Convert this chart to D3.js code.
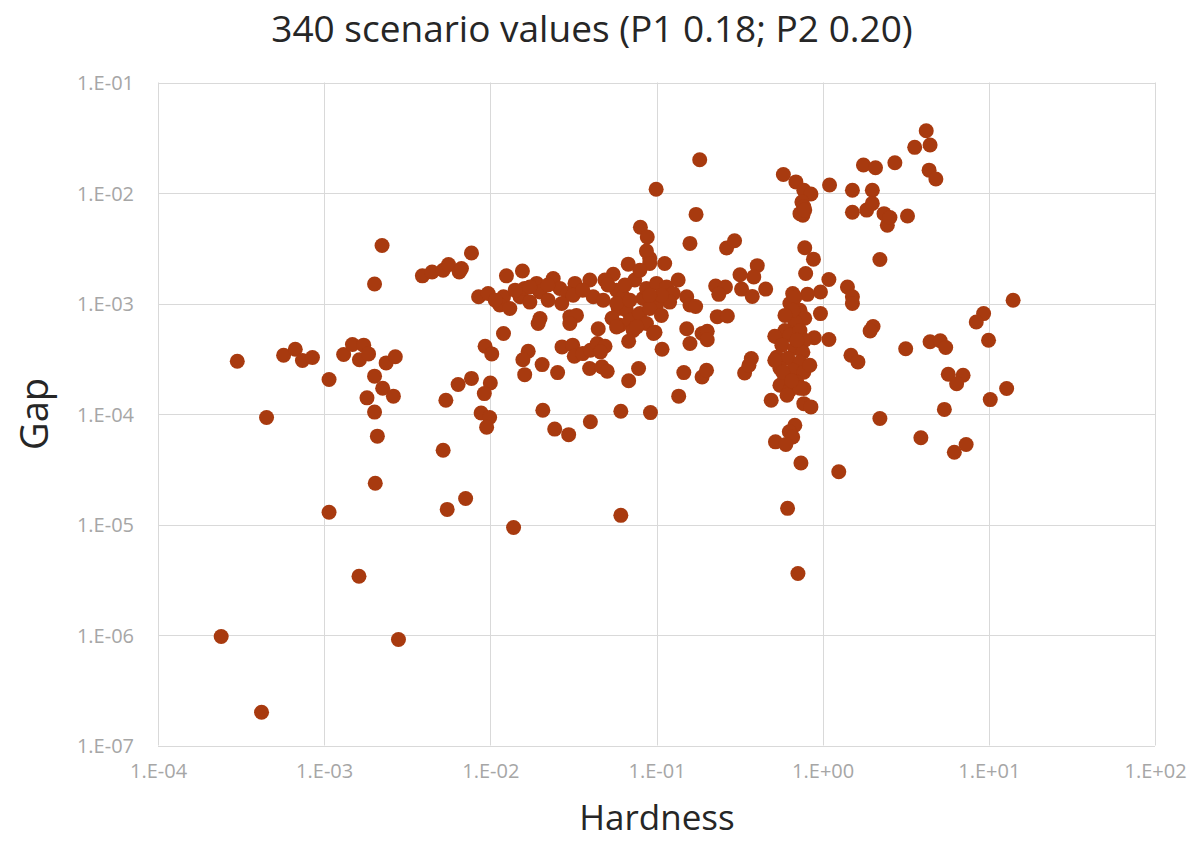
<!DOCTYPE html>
<html>
<head>
<meta charset="utf-8">
<script src="https://cdn.jsdelivr.net/npm/d3@7"></script>
<style>
  body { margin: 0; background: #fff; }
  svg { display: block; }
</style>
</head>
<body>
<div id="chart"></div>
<script>
// chart text
var title = "340 scenario values (P1 0.18; P2 0.20)";
var xTitle = "Hardness";
var yTitle = "Gap";

// decade ticks
var xTicks = [1e-4, 1e-3, 1e-2, 1e-1, 1e0, 1e1, 1e2];
var yTicks = [1e-7, 1e-6, 1e-5, 1e-4, 1e-3, 1e-2, 1e-1];

// [hardness, gap]
var scenarios = [
    // low hardness tail
    [2.4e-4, 9.7e-7], [4.2e-4, 2.0e-7], [3.0e-4, 3.0e-4], [4.5e-4, 9.3e-5], [5.7e-4, 3.4e-4],
    [6.7e-4, 3.85e-4], [7.4e-4, 3.05e-4], [8.5e-4, 3.25e-4], [1.07e-3, 2.05e-4], [1.31e-3, 3.45e-4],
    [1.48e-3, 4.25e-4], [1.73e-3, 4.2e-4], [1.63e-3, 3.1e-4], [1.85e-3, 3.5e-4], [2.36e-3, 2.9e-4],
    [2.68e-3, 3.3e-4], [2.01e-3, 2.2e-4], [2.25e-3, 1.71e-4], [2.61e-3, 1.45e-4], [1.81e-3, 1.4e-4],
    [2.01e-3, 1.04e-4], [2.09e-3, 6.3e-5], [2.03e-3, 2.36e-5], [1.07e-3, 1.29e-5], [1.62e-3, 3.4e-6],
    [2.8e-3, 9.1e-7], [2.23e-3, 3.35e-3], [2.01e-3, 1.5e-3], [3.9e-3, 1.78e-3], [4.46e-3, 1.93e-3],
    [5.2e-3, 2.0e-3], [5.6e-3, 2.25e-3], [6.5e-3, 1.93e-3], [6.7e-3, 2.07e-3], [7.7e-3, 2.86e-3],
    [5.2e-3, 4.7e-5], [5.4e-3, 1.33e-4], [6.4e-3, 1.85e-4], [7.7e-3, 2.1e-4], [5.5e-3, 1.37e-5],
    [7.1e-3, 1.72e-5], [1.38e-2, 9.4e-6], [6.1e-2, 1.21e-5],
    // the 1e-3 band
    [1.25e-2, 1.78e-3], [1.56e-2, 1.97e-3], [2.39e-2, 1.68e-3], [3.23e-2, 1.52e-3], [3.97e-2, 1.63e-3],
    [5.49e-2, 1.84e-3], [6.76e-2, 2.27e-3], [9.1e-2, 2.56e-3], [0.112, 2.3e-3], [8.5e-3, 1.15e-3],
    [9.7e-3, 1.23e-3], [1.2e-2, 1.15e-3], [1.14e-2, 9.7e-4], [1.31e-2, 9.0e-4], [1.51e-2, 1.15e-3],
    [1.61e-2, 1.37e-3], [1.9e-2, 1.52e-3], [1.99e-2, 1.27e-3], [2.23e-2, 1.07e-3], [1.73e-2, 1.03e-3],
    [2.62e-2, 1.37e-3], [2.94e-2, 1.23e-3], [2.69e-2, 1.0e-3], [3.15e-2, 1.19e-3], [3.01e-2, 7.6e-4],
    [3.3e-2, 7.8e-4], [1.99e-2, 7.3e-4], [1.94e-2, 6.6e-4], [3.01e-2, 6.6e-4], [1.2e-2, 5.35e-4],
    [4.16e-2, 1.15e-3], [4.78e-2, 1.07e-3], [4.89e-2, 1.63e-3], [5.75e-2, 1.32e-3], [6.3e-2, 1.15e-3],
    [5.89e-2, 9.0e-4], [6.6e-2, 8.7e-4], [6.03e-2, 6.35e-4], [6.92e-2, 7.06e-4], [7.94e-2, 8.1e-4],
    [8.3e-2, 1.11e-3], [8.7e-2, 1.37e-3], [0.1, 1.52e-3], [0.115, 1.41e-3], [0.126, 1.23e-3],
    [0.12, 1.03e-3], [0.1, 9.7e-4], [9.1e-2, 9.0e-4], [8.7e-2, 6.6e-4], [9.8e-2, 5.5e-4],
    [7.24e-2, 5.7e-4], [4.46e-2, 5.9e-4], [0.152, 1.15e-3], [0.159, 9.7e-4], [0.152, 5.9e-4],
    [9.95e-2, 1.08e-2], [8.0e-2, 4.9e-3], [8.8e-2, 4.0e-3], [8.7e-2, 2.98e-3], [9.1e-2, 2.3e-3],
    [5.75e-2, 1.0e-3], [1.73e-2, 1.41e-3], [5.1e-2, 1.47e-3], [7.4e-2, 1.63e-3], [0.107, 1.19e-3],
    [3.6e-2, 1.32e-3], [2.22e-2, 1.47e-3], [1.41e-2, 1.32e-3], [1.07e-2, 1.07e-3], [6.92e-2, 1.07e-3],
    [9.1e-2, 1.19e-3], [7.94e-2, 2.0e-3], [6.45e-2, 1.47e-3], [0.135, 1.63e-3], [0.107, 7.8e-4],
    [5.4e-2, 7.36e-4], [5.75e-2, 6.14e-4], [7.6e-2, 6.14e-4],
    // below the band
    [9.3e-3, 4.1e-4], [1.02e-2, 3.5e-4], [1.69e-2, 3.7e-4], [1.57e-2, 3.1e-4], [2.05e-2, 2.8e-4],
    [1.61e-2, 2.27e-4], [2.54e-2, 2.37e-4], [1.0e-2, 1.91e-4], [9.2e-3, 1.53e-4], [8.8e-3, 1.02e-4],
    [9.9e-3, 9.3e-5], [9.5e-3, 7.6e-5], [2.07e-2, 1.08e-4], [2.44e-2, 7.3e-5], [2.96e-2, 6.5e-5],
    [4.0e-2, 8.5e-5], [6.1e-2, 1.06e-4], [9.2e-2, 1.03e-4], [2.7e-2, 4.05e-4], [3.13e-2, 4.2e-4],
    [3.2e-2, 3.33e-4], [3.6e-2, 3.52e-4], [4.0e-2, 3.77e-4], [4.4e-2, 4.35e-4], [4.9e-2, 4.1e-4],
    [4.6e-2, 3.65e-4], [3.96e-2, 2.58e-4], [4.7e-2, 2.67e-4], [5.05e-2, 2.44e-4], [6.8e-2, 4.55e-4],
    [7.8e-2, 2.58e-4], [6.8e-2, 2.0e-4], [0.108, 3.85e-4], [9.6e-2, 5.35e-4],
    // hardness 0.1 .. 1.5
    [0.182, 2.0e-2], [0.173, 6.4e-3], [0.159, 3.5e-3], [0.264, 3.18e-3], [0.295, 3.7e-3],
    [0.58, 1.47e-2], [0.69, 1.26e-2], [0.77, 1.06e-2], [0.85, 9.8e-3], [0.75, 8.3e-3],
    [0.77, 7.5e-3], [0.76, 6.3e-3], [0.73, 6.5e-3], [0.78, 7.0e-3], [1.1, 1.18e-2],
    [0.78, 3.2e-3], [0.88, 2.52e-3], [0.79, 1.87e-3], [1.09, 1.65e-3], [0.97, 1.27e-3],
    [0.81, 1.21e-3], [0.66, 1.23e-3], [0.404, 2.2e-3], [0.385, 1.74e-3], [0.318, 1.82e-3],
    [0.325, 1.35e-3], [0.454, 1.35e-3], [0.377, 1.16e-3], [0.227, 1.44e-3], [0.26, 1.41e-3],
    [0.237, 1.21e-3], [0.172, 9.4e-4], [0.232, 7.6e-4], [0.267, 7.7e-4], [0.159, 4.35e-4],
    [0.188, 5.35e-4], [0.202, 5.6e-4], [0.202, 4.7e-4], [0.146, 2.37e-4], [0.188, 2.16e-4],
    [0.2, 2.49e-4], [0.136, 1.45e-4], [0.339, 2.35e-4], [0.372, 3.18e-4], [0.36, 2.76e-4],
    [0.97, 8.1e-4], [1.09, 4.72e-4], [0.89, 4.9e-4], [0.49, 1.33e-4], [0.77, 1.24e-4],
    [0.85, 1.16e-4], [0.68, 7.9e-5], [0.63, 6.9e-5], [0.66, 6.2e-5], [0.52, 5.6e-5],
    [0.6, 5.3e-5], [0.74, 3.6e-5], [1.25, 3.0e-5], [0.615, 1.4e-5], [0.71, 3.6e-6],
    [0.53, 5.0e-4], [0.56, 3.07e-4], [0.77, 1.7e-4],
    // tight column near hardness 0.7
    [0.635, 1.0e-3], [0.681, 1.14e-3], [0.73, 8.7e-4], [0.78, 7.36e-4], [0.681, 6.8e-4],
    [0.593, 5.7e-4], [0.515, 5.06e-4], [0.635, 5.16e-4], [0.73, 5.7e-4], [0.78, 4.65e-4],
    [0.568, 4.2e-4], [0.681, 3.94e-4], [0.76, 3.62e-4], [0.53, 3.27e-4], [0.618, 3.2e-4],
    [0.73, 2.94e-4], [0.553, 2.6e-4], [0.662, 2.49e-4], [0.77, 2.39e-4], [0.593, 2.1e-4],
    [0.7, 1.94e-4], [0.553, 1.82e-4], [0.635, 1.64e-4], [0.73, 1.71e-4], [0.61, 1.48e-4],
    [0.515, 3.06e-4], [0.837, 2.76e-4], [0.662, 8.7e-4], [0.593, 7.8e-4], [0.7, 4.65e-4],
    [0.575, 2.39e-4], [0.65, 2.0e-4],
    // hardness above 1.4
    [1.51, 1.06e-2], [1.99, 1.06e-2], [1.76, 1.79e-2], [2.08, 1.69e-2], [1.51, 6.7e-3],
    [1.84, 7.0e-3], [1.99, 8.05e-3], [2.34, 6.5e-3], [2.45, 5.1e-3], [2.21, 2.5e-3],
    [1.41, 1.41e-3], [1.51, 1.15e-3], [1.51, 1.0e-3], [4.2, 3.66e-2], [3.58, 2.59e-2],
    [4.43, 2.72e-2], [2.72, 1.88e-2], [4.37, 1.61e-2], [4.8, 1.34e-2], [2.54, 6.0e-3],
    [3.24, 6.2e-3], [14.0, 1.07e-3], [9.3, 8.1e-4], [8.4, 6.8e-4], [9.96, 4.65e-4],
    [2.01, 6.2e-4], [1.93, 5.65e-4], [3.16, 3.9e-4], [4.43, 4.5e-4], [5.1, 4.6e-4],
    [5.5, 4.0e-4], [1.48, 3.4e-4], [1.63, 2.96e-4], [5.7, 2.29e-4], [7.0, 2.24e-4],
    [6.4, 1.88e-4], [12.8, 1.7e-4], [10.2, 1.35e-4], [5.4, 1.1e-4], [2.21, 9.1e-5],
    [3.9, 6.1e-5], [7.3, 5.3e-5], [6.2, 4.5e-5]
];

var width = 1190, height = 842;
var margin = { left: 158, right: 35, top: 82.5, bottom: 96.5 };
var dotColor = "#A83A0F";
var gridColor = "#D9D9D9";
var tickColor = "#A6A6A6";
var textColor = "#262626";
var font = "'Open Sans', 'Noto Sans', sans-serif";

var svg = d3.select("#chart").append("svg")
    .attr("width", width)
    .attr("height", height)
    .style("font-family", font);

var x = d3.scaleLog()
    .domain([1e-4, 1e2])
    .range([margin.left, width - margin.right]);

var y = d3.scaleLog()
    .domain([1e-7, 1e-1])
    .range([height - margin.bottom, margin.top]);

function sci(v) {
    var e = Math.round(Math.log10(v));
    var s = e < 0 ? "-" : "+";
    return "1.E" + s + String(Math.abs(e)).padStart(2, "0");
}

// gridlines
svg.append("g")
    .selectAll("line")
    .data(xTicks)
    .join("line")
    .attr("x1", d => Math.round(x(d)) + 0.5)
    .attr("x2", d => Math.round(x(d)) + 0.5)
    .attr("y1", y(1e-1))
    .attr("y2", y(1e-7))
    .attr("stroke", gridColor);

svg.append("g")
    .selectAll("line")
    .data(yTicks)
    .join("line")
    .attr("x1", x(1e-4))
    .attr("x2", x(1e2))
    .attr("y1", d => Math.round(y(d)) + 0.5)
    .attr("y2", d => Math.round(y(d)) + 0.5)
    .attr("stroke", gridColor);

// axes (labels only, lines come from the grid)
var xAxis = svg.append("g")
    .attr("transform", `translate(0,${y(1e-7) + 15})`)
    .call(d3.axisBottom(x).tickValues(xTicks).tickFormat(sci).tickSize(0));

var yAxis = svg.append("g")
    .attr("transform", `translate(${x(1e-4) - 21},0)`)
    .call(d3.axisLeft(y).tickValues(yTicks).tickFormat(sci).tickSize(0));

[xAxis, yAxis].forEach(a => {
    a.select(".domain").remove();
    a.selectAll("text")
        .attr("fill", tickColor)
        .style("font-family", font)
        .style("font-size", "20px");
});
yAxis.selectAll("text").attr("dy", "0.35em");

// points
svg.append("g")
    .selectAll("circle")
    .data(scenarios)
    .join("circle")
    .attr("cx", d => x(d[0]))
    .attr("cy", d => y(d[1]))
    .attr("r", 7.5)
    .attr("fill", dotColor);

// titles
svg.append("text")
    .attr("x", 592)
    .attr("y", 42)
    .attr("text-anchor", "middle")
    .attr("fill", textColor)
    .style("font-size", "37px")
    .text(title);

svg.append("text")
    .attr("x", 657)
    .attr("y", 830)
    .attr("text-anchor", "middle")
    .attr("fill", textColor)
    .style("font-size", "35px")
    .text(xTitle);

svg.append("text")
    .attr("transform", `translate(48,${(y(1e-1) + y(1e-7)) / 2}) rotate(-90)`)
    .attr("text-anchor", "middle")
    .attr("fill", textColor)
    .style("font-size", "38px")
    .text(yTitle);
</script>
</body>
</html>
